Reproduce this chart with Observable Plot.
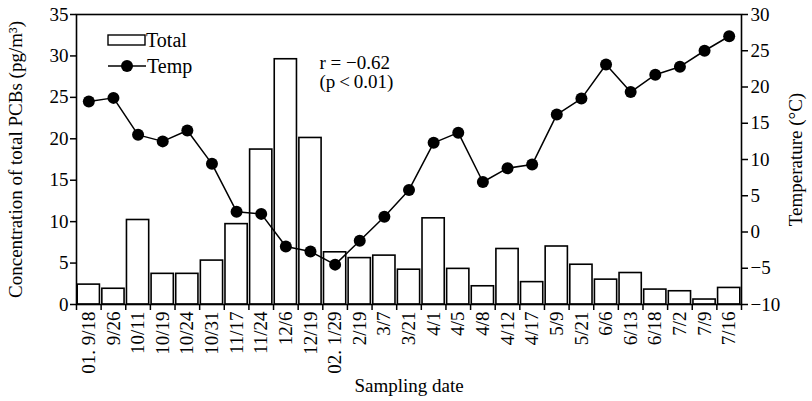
<!DOCTYPE html>
<html>
<head>
<meta charset="utf-8">
<script src="https://cdn.jsdelivr.net/npm/d3@7"></script>
<script src="https://cdn.jsdelivr.net/npm/@observablehq/plot@0.6"></script>
<style>
  html, body { margin: 0; padding: 0; background: white; }
  #wrap { position: relative; width: 812px; height: 401px; }
  #legend { position: absolute; left: 0; top: 0; pointer-events: none; }
  svg text { font-family: "Liberation Serif", "DejaVu Serif", serif; }
</style>
</head>
<body>
<div id="wrap"></div>
<script>
// ---- data ----
const dates = ["01. 9/18", "9/26", "10/11", "10/19", "10/24", "10/31", "11/17", "11/24", "12/6", "12/19",
  "02. 1/29", "2/19", "3/7", "3/21", "4/1", "4/5", "4/8", "4/12", "4/17", "5/9", "5/21", "6/6", "6/13",
  "6/18", "7/2", "7/9", "7/16"];
const totals = [2.4, 1.9, 10.2, 3.7, 3.7, 5.3, 9.7, 18.7, 29.6, 20.1,
  6.3, 5.6, 5.9, 4.2, 10.4, 4.3, 2.2, 6.7, 2.7, 7.0, 4.8, 3.0, 3.8,
  1.8, 1.6, 0.6, 2.0];
const temps = [18.0, 18.5, 13.4, 12.5, 14.0, 9.4, 2.8, 2.5, -2.0, -2.7,
  -4.5, -1.2, 2.1, 5.8, 12.3, 13.7, 6.9, 8.8, 9.3, 16.2, 18.4, 23.1, 19.3,
  21.7, 22.8, 25.0, 27.0];
const leftTicks = [0, 5, 10, 15, 20, 25, 30, 35];
const tempTicks = [-10, -5, 0, 5, 10, 15, 20, 25, 30];
const leftDomain = [0, 35];
const tempDomain = [-10, 30];
const legendLabels = ["Total", "Temp"];
const annotationLines = ["r = \u22120.62", "(p\u2009<\u20090.01)"];

// map temperature onto left scale units
const toLeft = t => (t - tempDomain[0]) * (leftDomain[1] - leftDomain[0]) / (tempDomain[1] - tempDomain[0]) + leftDomain[0];
const fromLeft = v => (v - leftDomain[0]) * (tempDomain[1] - tempDomain[0]) / (leftDomain[1] - leftDomain[0]) + tempDomain[0];
const fmtMinus = v => { const r = Math.round(v); return r < 0 ? "\u2212" + Math.abs(r) : String(r); };

const rows = dates.map((d, i) => ({i, date: d, total: totals[i], temp: temps[i]}));

const chart = Plot.plot({
  width: 812,
  height: 401,
  marginLeft: 76,
  marginRight: 71,
  marginTop: 14,
  marginBottom: 97,
  style: {fontFamily: '"Liberation Serif", serif', fontSize: "19px", color: "black", background: "white", overflow: "visible"},
  x: {domain: [0, dates.length], axis: null},
  y: {domain: leftDomain, axis: null},
  marks: [
    Plot.rectY(rows, {x1: d => d.i, x2: d => d.i + 1, y: "total", fill: "white", stroke: "black", strokeWidth: 1.6, insetLeft: 1.2, insetRight: 1.2}),
    Plot.line(rows, {x: d => d.i + 0.5, y: d => toLeft(d.temp), stroke: "black", strokeWidth: 1.5}),
    Plot.dot(rows, {x: d => d.i + 0.5, y: d => toLeft(d.temp), r: 6, fill: "black", stroke: "none"}),
    Plot.frame({stroke: "black", strokeWidth: 1.6}),
    Plot.axisY(leftTicks, {anchor: "left", tickSize: 6, tickPadding: 2, fontSize: 19, strokeWidth: 1.5,
      label: "Concentration of total PCBs (pg/m\u00B3)", labelAnchor: "center", labelArrow: "none", labelOffset: 68}),
    Plot.axisY(tempTicks.map(toLeft), {anchor: "right", tickSize: 6, tickPadding: 3, fontSize: 19, strokeWidth: 1.5,
      tickFormat: v => fmtMinus(fromLeft(v)),
      label: "Temperature (\u00B0C)", labelAnchor: "center", labelArrow: "none", labelOffset: 60}),
    Plot.axisX(d3.range(dates.length + 1), {anchor: "bottom", tickSize: 6, tickFormat: () => "", label: null, strokeWidth: 1.5}),
    Plot.axisX(d3.range(dates.length).map(i => i + 0.5), {anchor: "bottom", tickSize: 0, tickPadding: 7, tickRotate: -90, fontSize: 18,
      tickFormat: v => dates[Math.floor(v)],
      label: "Sampling date", labelAnchor: "center", labelArrow: "none", labelOffset: 87, fontSize: 19}),
    Plot.text([annotationLines[0]], {frameAnchor: "top-left", dx: 243, dy: 48, textAnchor: "start", lineAnchor: "middle", fontSize: 19}),
    Plot.text([annotationLines[1]], {frameAnchor: "top-left", dx: 243, dy: 67, textAnchor: "start", lineAnchor: "middle", fontSize: 19})
  ]
});

const wrap = document.getElementById("wrap");
wrap.appendChild(chart);

// legend overlay
const leg = d3.select(wrap).append("svg").attr("id", "legend").attr("width", 812).attr("height", 401);
leg.append("rect").attr("x", 108).attr("y", 35).attr("width", 37).attr("height", 10)
  .attr("fill", "white").attr("stroke", "black").attr("stroke-width", 1.4);
leg.append("text").attr("x", 146).attr("y", 47).attr("font-size", 20).text(legendLabels[0]);
leg.append("line").attr("x1", 108).attr("x2", 146).attr("y1", 66).attr("y2", 66).attr("stroke", "black").attr("stroke-width", 1.5);
leg.append("circle").attr("cx", 127).attr("cy", 66).attr("r", 6).attr("fill", "black");
leg.append("text").attr("x", 147).attr("y", 73).attr("font-size", 20).text(legendLabels[1]);
</script>
</body>
</html>
